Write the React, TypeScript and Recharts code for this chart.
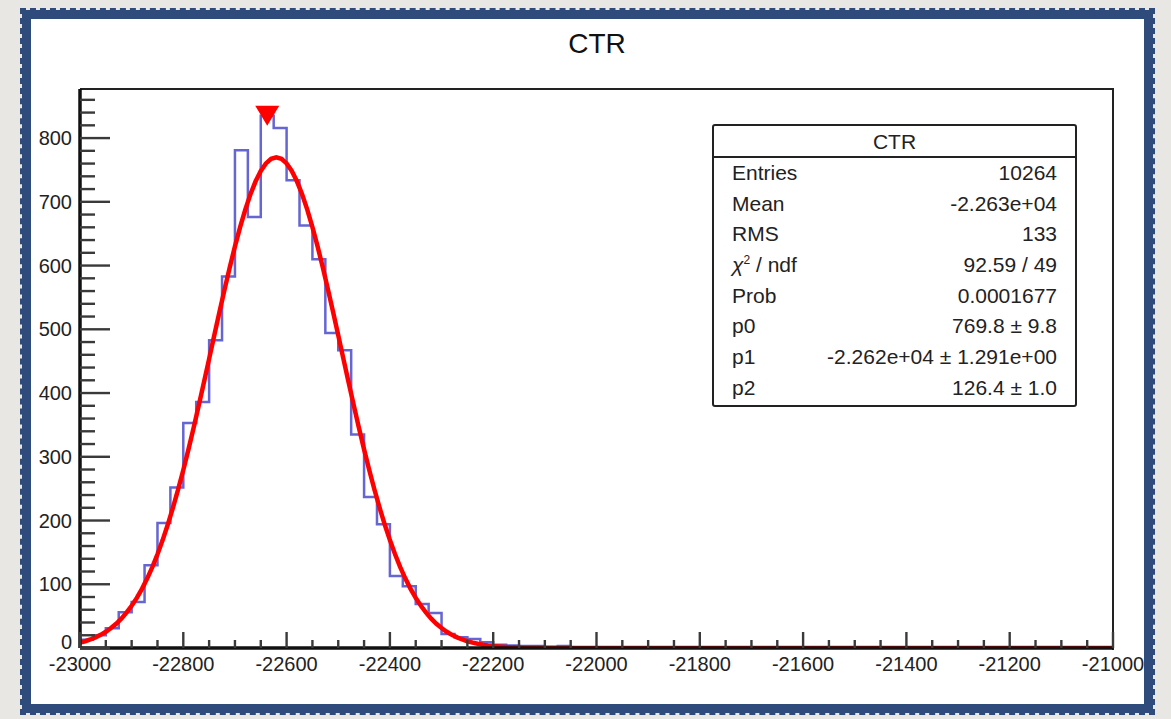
import React from 'react';
import { ComposedChart, Line, Scatter, XAxis, YAxis } from 'recharts';

// histogram CTR: 80 bins of 25 between -23000 and -21000
const xMin = -23000;
const xMax = -21000;
const binWidth = 25;
const counts = [
  13, 20, 31, 56, 72, 130, 196, 252, 353, 386,
  483, 583, 781, 676, 835, 816, 734, 663, 610, 494,
  467, 335, 237, 194, 113, 97, 69, 55, 22, 17,
  14, 9, 5, 4, 3, 3, 2, 3, 1, 1,
  0, 1, 0, 0, 1, 0, 0, 1, 0, 0,
  0, 1, 0, 0, 0, 0, 0, 0, 0, 0,
  0, 0, 0, 0, 0, 0, 0, 0, 0, 0,
  0, 0, 0, 0, 0, 0, 0, 0, 0, 0,
];
const yMax = 877;

// gaus fit result (p0, p1, p2 in the stats box)
const p0 = 769.8;
const p1 = -22620;
const p2 = 126.4;

// peak marker sits on the highest bin
const peaks = [{ x: -22637.5, y: 835 }];

const xTicks = Array.from({ length: 41 }, (_, i) => xMin + i * 50);
const yTicks = Array.from({ length: 44 }, (_, i) => i * 20);

const statLabels = ['Entries', 'Mean', 'RMS', 'chi2', 'Prob', 'p0', 'p1', 'p2'];
const statValues = [
  '10264',
  '-2.263e+04',
  '133',
  '92.59 / 49',
  '0.0001677',
  '769.8 \u00b1 9.8',
  '-2.262e+04 \u00b1 1.291e+00',
  '126.4 \u00b1 1.0',
];

const histData = counts
  .map((c, i) => ({ x: xMin + i * binWidth, y: c }))
  .concat([{ x: xMax, y: counts[counts.length - 1] }]);

const gaus = (x: number) => p0 * Math.exp(-0.5 * ((x - p1) / p2) ** 2);
const fitData = Array.from({ length: 201 }, (_, i) => {
  const x = xMin + i * 10;
  return { x, y: gaus(x) };
});

const FONT = '"Liberation Sans", Arial, Helvetica, sans-serif';

// ROOT style: ticks point into the frame, labels outside
const XTick = (props: any) => {
  const { x, y, payload } = props;
  const v = payload.value as number;
  const major = v % 200 === 0;
  return (
    <g>
      <line x1={x} y1={y} x2={x} y2={y - (major ? 16 : 8)} stroke="#3a3a3a" strokeWidth={2.4} />
      {major && (
        <text x={x} y={y + 23} textAnchor="middle" fontSize={20} fontFamily={FONT} fill="#222">
          {v}
        </text>
      )}
    </g>
  );
};

const YTick = (props: any) => {
  const { x, y, payload } = props;
  const v = payload.value as number;
  const major = v % 100 === 0;
  // the zero label is nudged up so it clears the x labels
  const dy = v === 0 ? 1 : 7;
  return (
    <g>
      <line x1={x} y1={y} x2={x + (major ? 30 : 15)} y2={y} stroke="#3a3a3a" strokeWidth={2.4} />
      {major && (
        <text x={x - 8} y={y + dy} textAnchor="end" fontSize={20} fontFamily={FONT} fill="#222">
          {v}
        </text>
      )}
    </g>
  );
};

const PeakMarker = (props: any) => {
  const { cx, cy } = props;
  return <path d={`M${cx - 12},${cy - 10} L${cx + 12},${cy - 10} L${cx},${cy + 10} Z`} fill="#ff0000" />;
};

const StatLabel = ({ name }: { name: string }) =>
  name === 'chi2' ? (
    <span>
      <i>&chi;</i>
      <sup style={{ fontSize: 12, lineHeight: 0 }}>2</sup> / ndf
    </span>
  ) : (
    <span>{name}</span>
  );

export default function App() {
  return (
    <div
      style={{
        position: 'absolute',
        left: 0,
        top: 0,
        width: 1171,
        height: 719,
        background: '#e9e7e3',
        fontFamily: FONT,
        overflow: 'hidden',
      }}
    >
      {/* canvas with the rough blue border */}
      <div
        style={{
          position: 'absolute',
          left: 22,
          top: 10,
          width: 1113,
          height: 685,
          background: '#fff',
          border: '9px solid #2f4b7b',
          outline: '2px dashed #2f4b7b',
          outlineOffset: '0px',
        }}
      />
      {/* frame top/right edges */}
      <div
        style={{
          position: 'absolute',
          left: 80,
          top: 88,
          width: 1032,
          height: 560,
          borderTop: '2px solid #222',
          borderRight: '2px solid #222',
        }}
      />
      <div
        style={{
          position: 'absolute',
          left: 0,
          width: 1194,
          top: 28,
          textAlign: 'center',
          fontSize: 28,
          color: '#111',
        }}
      >
        CTR
      </div>
      <div style={{ position: 'absolute', left: 0, top: 0 }}>
        <ComposedChart width={1171} height={719} margin={{ top: 89, right: 58, bottom: 31, left: 30 }}>
          <XAxis
            type="number"
            dataKey="x"
            domain={[xMin, xMax]}
            ticks={xTicks}
            interval={0}
            height={40}
            tickSize={0}
            tickMargin={0}
            tick={<XTick />}
            axisLine={{ stroke: '#111', strokeWidth: 3.5 }}
            allowDataOverflow
          />
          <YAxis
            type="number"
            domain={[0, yMax]}
            ticks={yTicks}
            interval={0}
            width={50}
            tickSize={0}
            tickMargin={0}
            tick={<YTick />}
            axisLine={{ stroke: '#111', strokeWidth: 3.5 }}
            allowDataOverflow
          />
          <Line
            data={histData}
            dataKey="y"
            type="stepAfter"
            stroke="#6565d4"
            strokeWidth={2.5}
            dot={false}
            isAnimationActive={false}
          />
          <Line
            data={fitData}
            dataKey="y"
            type="linear"
            stroke="#ff0000"
            strokeWidth={4.5}
            dot={false}
            isAnimationActive={false}
          />
          <Scatter data={peaks} dataKey="y" shape={<PeakMarker />} isAnimationActive={false} />
        </ComposedChart>
      </div>
      {/* stats box */}
      <div
        style={{
          position: 'absolute',
          left: 712,
          top: 124,
          width: 361,
          height: 279,
          border: '2.5px solid #222',
          borderRadius: 3,
          background: '#fff',
          fontSize: 21,
          color: '#222',
        }}
      >
        <div
          style={{
            height: 30,
            lineHeight: '31px',
            textAlign: 'center',
            borderBottom: '2.5px solid #222',
          }}
        >
          CTR
        </div>
        {statLabels.map((name, i) => (
          <div
            key={name}
            style={{
              display: 'flex',
              justifyContent: 'space-between',
              height: 30.7,
              lineHeight: '30.7px',
              paddingLeft: 18,
              paddingRight: 18,
            }}
          >
            <StatLabel name={name} />
            <span>{statValues[i]}</span>
          </div>
        ))}
      </div>
    </div>
  );
}
